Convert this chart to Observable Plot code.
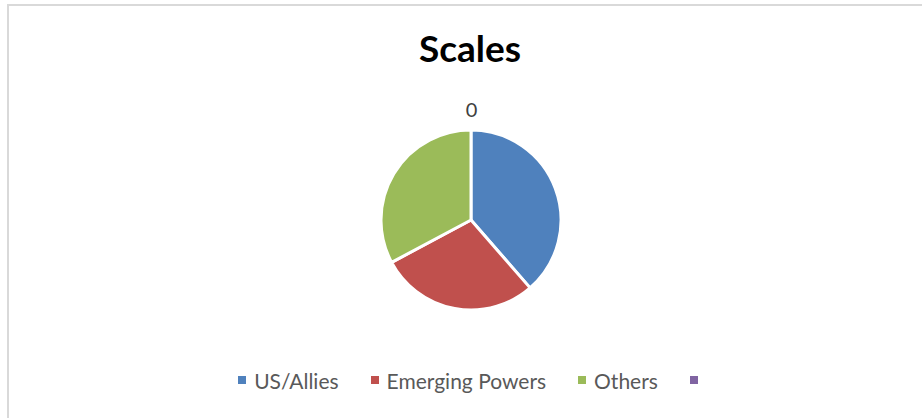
<!DOCTYPE html>
<html><head><meta charset="utf-8">
<script src="https://cdn.jsdelivr.net/npm/d3@7"></script>
<script src="https://cdn.jsdelivr.net/npm/@observablehq/plot@0.6"></script>
<style>
html,body{margin:0;padding:0;background:#fff;}
#chart{position:relative;width:922px;height:418px;overflow:hidden;background:#fff;font-family:Lato,"Open Sans",sans-serif;}
#frame{position:absolute;left:7px;top:4px;width:960px;height:460px;border:2px solid #d9d9d9;box-sizing:border-box;}
#title{position:absolute;left:0;width:940px;top:29px;text-align:center;font-weight:700;font-size:37px;line-height:1;color:#000;}
#pie{position:absolute;left:0;top:90px;}
#legend{position:absolute;left:0;top:366px;width:944px;display:flex;justify-content:center;}
#legend .lg-swatches{display:flex;justify-content:center;align-items:center;font-family:Lato,"Open Sans",sans-serif !important;font-size:21px !important;color:#595959 !important;margin:0 !important;min-height:28px;}
#legend .lg-swatch{margin-right:32px !important;display:inline-flex;align-items:center;}
#legend .lg-swatch:last-child{margin-right:0 !important;}
#legend .lg-swatch > svg{margin-right:8px !important;}
</style>
</head><body>
<div id="chart">
  <div id="frame"></div>
  <div id="title"></div>
  <div id="pie"></div>
  <div id="legend"></div>
</div>
<script>
const chartTitle = "Scales";
const seriesLabel = "0";
const categories = ["US/Allies", "Emerging Powers", "Others", ""];
const values = [38.6, 28.6, 32.8];
const colors = ["#4f81bd", "#c0504d", "#9bbb59", "#8064a2"];

const slices = values.map((v, i) => ({category: categories[i], value: v}));

document.getElementById("title").textContent = chartTitle;

function pieMark(index, scales, vals, dimensions, context) {
  const cx = scales.x(0), cy = scales.y(0);
  const r = Math.abs(scales.x(1) - scales.x(0));
  const arcs = d3.pie().sort(null).value(d => d.value)(slices);
  const arc = d3.arc().innerRadius(0).outerRadius(r);
  const g = d3.create("svg:g").attr("transform", `translate(${cx},${cy})`);
  g.selectAll("path").data(arcs).join("path")
    .attr("d", arc)
    .attr("fill", d => scales.color(d.data.category))
    .attr("stroke", "#fff")
    .attr("stroke-width", 3)
    .attr("stroke-linejoin", "round");
  return g.node();
}

const plot = Plot.plot({
  width: 922,
  height: 240,
  marginLeft: 381,
  marginRight: 361,
  marginTop: 40,
  marginBottom: 20,
  style: {background: "transparent", overflow: "visible"},
  x: {domain: [-1, 1], axis: null},
  y: {domain: [-1, 1], axis: null},
  color: {type: "categorical", domain: categories, range: colors},
  marks: [
    Plot.dot(slices, {x: () => 0, y: () => 0, fill: "category", r: 0}),
    pieMark,
    Plot.text([seriesLabel], {frameAnchor: "top", lineAnchor: "middle", dy: -20, text: d => d, fontSize: 20, fill: "#404040", fontFamily: "Lato, 'Open Sans', sans-serif"})
  ]
});
document.getElementById("pie").appendChild(plot);

const legend = plot.legend("color", {swatchSize: 8, className: "lg"});
document.getElementById("legend").appendChild(legend);
</script>
</body></html>
